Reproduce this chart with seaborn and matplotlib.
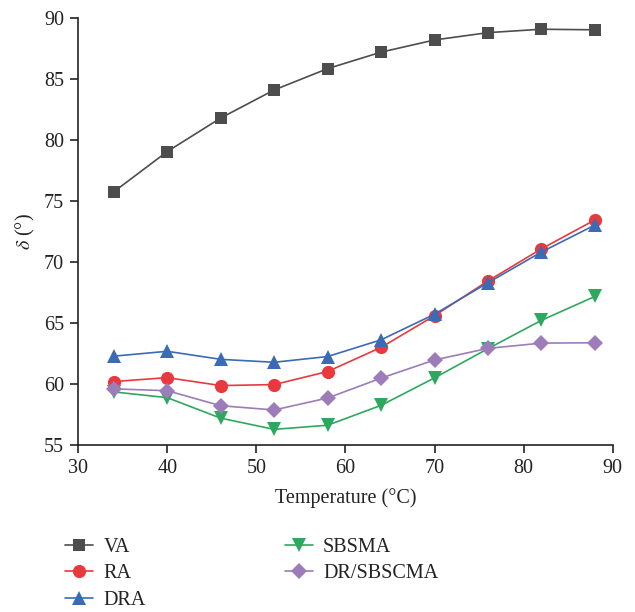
import numpy as np
import pandas as pd
import matplotlib
matplotlib.use("Agg")
import matplotlib.pyplot as plt
import seaborn as sns

temperature = [34, 40, 46, 52, 58, 64, 70, 76, 82, 88]
va = [75.75, 79.05, 81.8, 84.1, 85.85, 87.2, 88.2, 88.8, 89.08, 89.03]
ra = [60.2, 60.52, 59.87, 59.95, 61.02, 63.0, 65.6, 68.45, 71.08, 73.45]
dra = [62.28, 62.68, 62.02, 61.78, 62.25, 63.62, 65.72, 68.3, 70.82, 73.03]
sbsma = [59.35, 58.88, 57.2, 56.28, 56.62, 58.25, 60.5, 62.9, 65.22, 67.18]
dr_sbscma = [59.6, 59.45, 58.22, 57.87, 58.85, 60.48, 61.97, 62.92, 63.35, 63.38]

series_names = ["VA", "RA", "DRA", "SBSMA", "DR/SBSCMA"]
series_values = [va, ra, dra, sbsma, dr_sbscma]
colors = ["#4d4d4d", "#e8393f", "#3a6bb4", "#2ea85f", "#9c7cb9"]
marker_styles = ["s", "o", "^", "v", "D"]
marker_sizes = [8, 9.5, 10, 10, 8.5]

x_ticks = [30, 40, 50, 60, 70, 80, 90]
y_ticks = [55, 60, 65, 70, 75, 80, 85, 90]

df = pd.DataFrame({
    "Temperature": np.tile(temperature, len(series_names)),
    "delta": np.concatenate(series_values),
    "Series": np.repeat(series_names, len(temperature)),
})

sns.set_style("ticks")
plt.rcParams["font.family"] = ["Liberation Serif", "DejaVu Serif"]
plt.rcParams["mathtext.fontset"] = "stix"

fig = plt.figure(figsize=(6.35, 6.12), dpi=100)
ax = fig.add_axes([0.123, 0.2729, 0.842, 0.6977])

for name, col, mk, ms in zip(series_names, colors, marker_styles, marker_sizes):
    sub = df[df["Series"] == name]
    sns.lineplot(data=sub, x="Temperature", y="delta", ax=ax, color=col,
                 marker=mk, markersize=ms, markeredgewidth=0, linewidth=1.2,
                 label=name, legend=False)

ax.set_xlim(30, 90)
ax.set_ylim(55, 90)
ax.set_xticks(x_ticks)
ax.set_yticks(y_ticks)
ax.tick_params(axis="both", labelsize=14.5, direction="out", length=6,
               width=1.2, color="#222222", labelcolor="#222222", pad=4)
for side in ["top", "right"]:
    ax.spines[side].set_visible(False)
for side in ["left", "bottom"]:
    ax.spines[side].set_linewidth(1.2)
    ax.spines[side].set_color("#222222")

ax.set_xlabel("Temperature (°C)", fontsize=14.5, color="#222222", labelpad=7)
ax.set_ylabel(r"$\delta$ (°)", fontsize=14.5, color="#222222", labelpad=5)

handles, labels = ax.get_legend_handles_labels()
fig.legend(handles, labels, ncol=2, loc="upper left",
           bbox_to_anchor=(0.09, 0.134), borderaxespad=0, frameon=False,
           fontsize=14.5, handlelength=1.4, handletextpad=0.5,
           columnspacing=6.9, labelspacing=0.36, labelcolor="#222222")

fig.savefig("out.png", dpi=100)
